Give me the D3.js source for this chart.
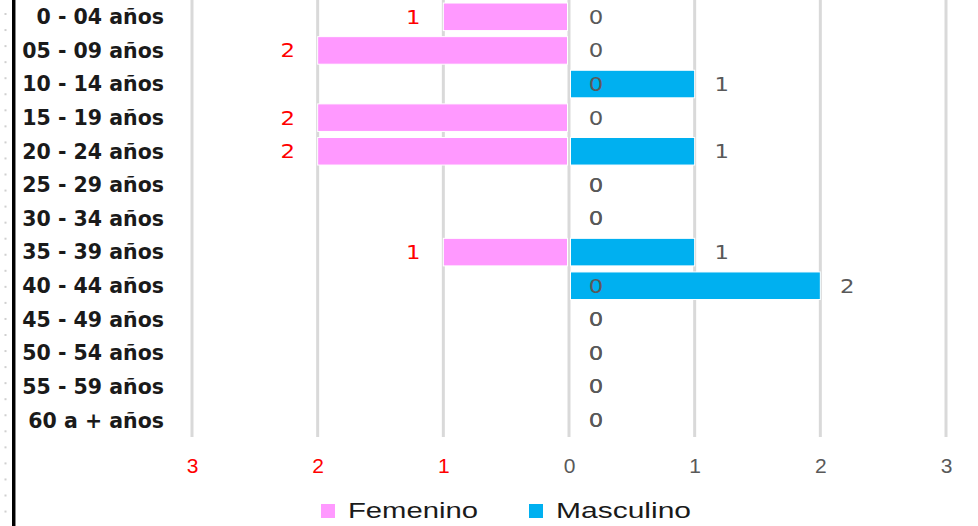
<!DOCTYPE html>
<html>
<head>
<meta charset="utf-8">
<script src="https://cdn.jsdelivr.net/npm/d3@7"></script>
<style>
  html, body { margin: 0; padding: 0; background: #fff; }
  svg { display: block; }
</style>
</head>
<body>
<svg id="chart" width="978" height="526"></svg>
<script>
// Age groups (top to bottom)
const categories = [
  "0 - 04 años", "05 - 09 años", "10 - 14 años", "15 - 19 años", "20 - 24 años",
  "25 - 29 años", "30 - 34 años", "35 - 39 años", "40 - 44 años", "45 - 49 años",
  "50 - 54 años", "55 - 59 años", "60 a + años"
];
// Counts by sex
const femenino  = [1, 2, 0, 2, 2, 0, 0, 1, 0, 0, 0, 0, 0];
const masculino = [0, 0, 1, 0, 1, 0, 0, 1, 2, 0, 0, 0, 0];
// Axis ticks: left side counts women, right side counts men
const tickValues = [-3, -2, -1, 0, 1, 2, 3];
const seriesNames = ["Femenino", "Masculino"];

const colors = { fem: "#FF99FF", masc: "#00B0F0", red: "#FF0000", gray: "#595959", grid: "#D9D9D9" };

const svg = d3.select("#chart");

const x = d3.scaleLinear().domain([-3, 3]).range([192, 946]);
const y = d3.scaleBand().domain(categories).range([0, 437]).paddingInner(0.18).paddingOuter(0.09);

// page border decoration on the left
svg.append("g").selectAll("rect")
  .data(d3.range(14, 520, 16.05))
  .join("rect")
  .attr("x", 4.5).attr("y", d => d - 1).attr("width", 2).attr("height", 2)
  .attr("fill", "#d0d0d0");
svg.append("rect").attr("x", 12).attr("y", 0).attr("width", 3).attr("height", 526).attr("fill", "#000");
svg.append("rect").attr("x", 15).attr("y", 0).attr("width", 1).attr("height", 526).attr("fill", "#888");

// vertical gridlines
svg.append("g").selectAll("line")
  .data(tickValues)
  .join("line")
  .attr("x1", d => x(d)).attr("x2", d => x(d))
  .attr("y1", 0).attr("y2", 437)
  .attr("stroke", colors.grid).attr("stroke-width", 3);

// tick labels
const xAxis = d3.axisBottom(x).tickValues(tickValues).tickSize(0).tickPadding(0)
  .tickFormat(d => Math.abs(d));
const axisG = svg.append("g").attr("transform", "translate(0,458)").call(xAxis);
axisG.select(".domain").remove();
axisG.selectAll("text")
  .attr("font-family", "'Liberation Sans Narrow', 'Liberation Sans', sans-serif")
  .attr("font-size", 21)
  .attr("fill", d => d < 0 ? colors.red : colors.gray)
  .attr("dy", "0.71em");

// bars
const barH = y.bandwidth();
const rows = categories.map((c, i) => ({ c, f: femenino[i], m: masculino[i] }));

svg.append("g").selectAll("rect")
  .data(rows.filter(d => d.f > 0))
  .join("rect")
  .attr("x", d => x(-d.f))
  .attr("y", d => y(d.c))
  .attr("width", d => x(0) - 1.5 - x(-d.f))
  .attr("height", barH)
  .attr("fill", colors.fem)
  .attr("stroke", "#fff").attr("stroke-width", 1);

svg.append("g").selectAll("rect")
  .data(rows.filter(d => d.m > 0))
  .join("rect")
  .attr("x", x(0) + 1.5)
  .attr("y", d => y(d.c))
  .attr("width", d => x(d.m) - x(0) - 1.5)
  .attr("height", barH)
  .attr("fill", colors.masc)
  .attr("stroke", "#fff").attr("stroke-width", 1);

const cy = d => y(d.c) + barH / 2;
const valueFont = "'DejaVu Sans', Verdana, sans-serif";

// women labels: red beyond the bar end, zero counts shown in grey at the axis
svg.append("g").selectAll("text")
  .data(rows)
  .join("text")
  .attr("transform", d => d.f > 0
    ? `translate(${x(-d.f) - 30},${cy(d)}) scale(1.2,1)`
    : `translate(${x(0) + 27},${cy(d)}) scale(1.2,1)`)
  .attr("text-anchor", "middle").attr("dy", "0.36em")
  .attr("font-family", valueFont).attr("font-size", 19)
  .attr("fill", d => d.f > 0 ? colors.red : colors.gray)
  .text(d => d.f);

// men labels, right of the bar end
svg.append("g").selectAll("text")
  .data(rows)
  .join("text")
  .attr("transform", d => `translate(${x(d.m) + 27},${cy(d)}) scale(1.2,1)`)
  .attr("text-anchor", "middle").attr("dy", "0.36em")
  .attr("font-family", valueFont).attr("font-size", 19)
  .attr("fill", colors.gray)
  .text(d => d.m);

// category labels
svg.append("g").selectAll("text")
  .data(categories)
  .join("text")
  .attr("x", 164)
  .attr("y", d => y(d) + barH / 2)
  .attr("dy", "0.36em")
  .attr("text-anchor", "end")
  .attr("font-family", "'DejaVu Sans', Verdana, sans-serif")
  .attr("font-weight", "bold")
  .attr("font-size", 20.5)
  .attr("fill", "#1a1a1a")
  .text(d => d);

// legend
const legend = svg.append("g").selectAll("g")
  .data([
    { name: seriesNames[0], color: colors.fem, sx: 321, tx: 348, w: 130 },
    { name: seriesNames[1], color: colors.masc, sx: 529, tx: 556, w: 135 }
  ])
  .join("g");
legend.append("rect")
  .attr("x", d => d.sx).attr("y", 504).attr("width", 14).attr("height", 14)
  .attr("fill", d => d.color);
legend.append("text")
  .attr("x", d => d.tx).attr("y", 518)
  .attr("font-family", "'Liberation Sans Narrow', 'Liberation Sans', sans-serif")
  .attr("font-size", 22)
  .attr("textLength", d => d.w).attr("lengthAdjust", "spacingAndGlyphs")
  .attr("fill", "#1a1a1a")
  .text(d => d.name);
</script>
</body>
</html>
